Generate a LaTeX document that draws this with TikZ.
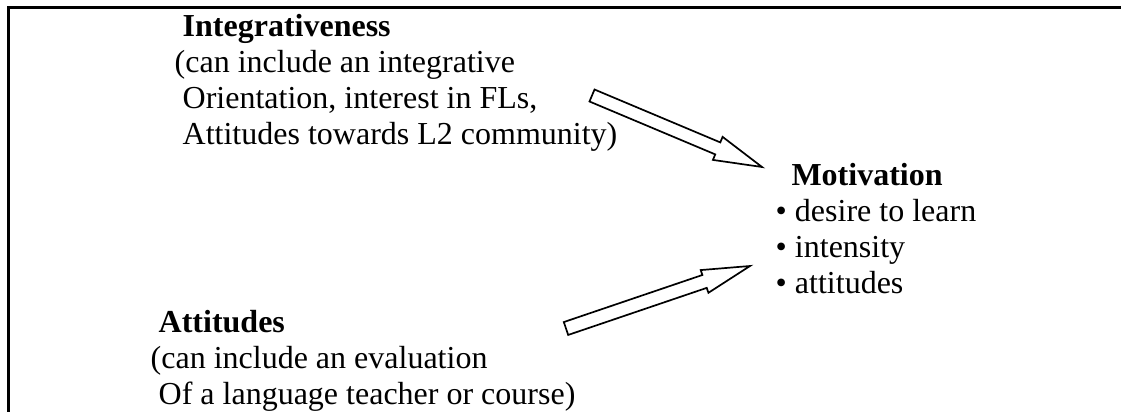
\documentclass[tikz,border=0pt]{standalone}
\usepackage{fontspec}
\setmainfont{Liberation Serif}
\usetikzlibrary{calc}

% text is set 32pt on 36pt leading
\newcommand\textblock[1]{{\fontsize{32}{36}\selectfont
  \begin{tabular}[t]{@{}l@{}}#1\end{tabular}}}
\newcommand\bul{\makebox[19.5pt][l]{\textbullet}}

% outlined block arrow: tail, tip, shaft half-width, head half-width, head length
\newcommand\hollowarrow[5]{%
  \path ($(#2)!#5!(#1)$) coordinate (#2-hb);
  \draw[hollow arrow]
    ($(#1)!#3!90:(#2)$) -- ($(#2-hb)!#3!90:(#2)$) -- ($(#2-hb)!#4!90:(#2)$)
    -- (#2)
    -- ($(#2-hb)!#4!-90:(#2)$) -- ($(#2-hb)!#3!-90:(#2)$) -- ($(#1)!#3!-90:(#2)$)
    -- cycle;
}

\tikzset{
  frame line/.style={line width=2.7pt, line cap=rect},
  hollow arrow/.style={draw=black, fill=white, line width=1.7pt, line join=miter},
  textbox/.style={inner sep=0pt, anchor=base west},
}

\begin{document}
\begin{tikzpicture}[x=1pt, y=-1pt]
  \useasboundingbox (0,0) rectangle (1121,412);

  % frame edges
  \coordinate (frame-tr) at (1121,7.3);
  \coordinate (frame-tl) at (8.7,7.3);
  \coordinate (frame-bl) at (8.7,412);
  \draw[frame line] (frame-tr) -- (frame-tl) -- (frame-bl);

  % text blocks
  \node[textbox] (integ) at (174.5,36.5) {\textblock{%
    \hspace{0.25em}\textbf{Integrativeness}\\
    (can include an integrative\\
    \hspace{0.25em}Orientation, interest in FLs,\\
    \hspace{0.25em}Attitudes towards L2 community)}};

  \node[textbox] (motiv) at (775.3,185) {\textblock{%
    \hspace{16pt}\textbf{Motivation}\\
    \bul desire to learn\\
    \bul intensity\\
    \bul attitudes}};

  \node[textbox] (att) at (150.5,332) {\textblock{%
    \hspace{0.25em}\textbf{Attitudes}\\
    (can include an evaluation\\
    \hspace{0.25em}Of a language teacher or course)}};

  % connector end points
  \coordinate (integ-out) at (592,95.5);
  \coordinate (motiv-in1) at (762,167);
  \coordinate (att-out) at (566,328.5);
  \coordinate (motiv-in2) at (750,266);

  \hollowarrow{integ-out}{motiv-in1}{6.5pt}{12.5pt}{48pt}
  \hollowarrow{att-out}{motiv-in2}{6.8pt}{12pt}{48pt}
\end{tikzpicture}
\end{document}
